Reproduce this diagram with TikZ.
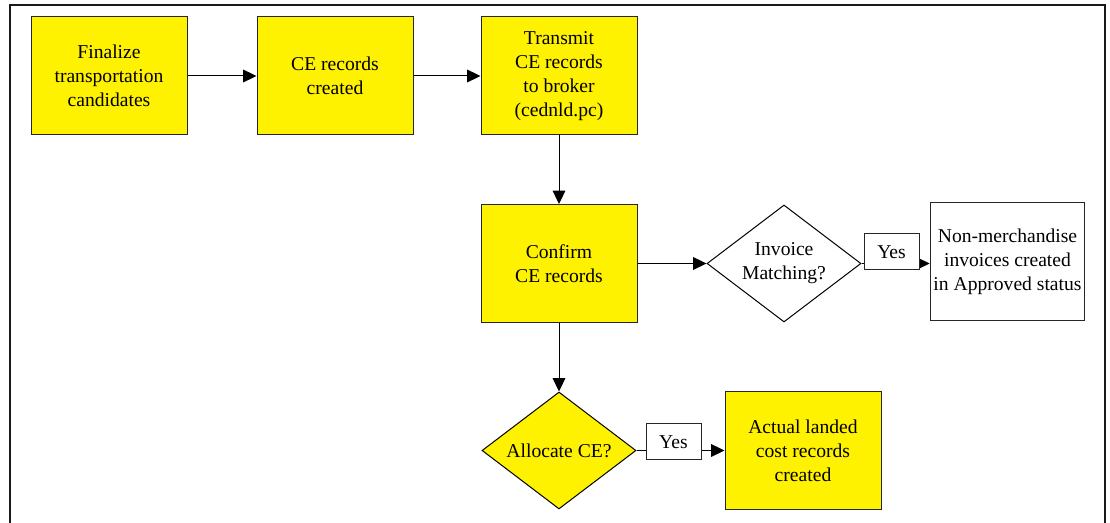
\documentclass[tikz,border=0pt]{standalone}
\usepackage{fontspec}
\setmainfont{Liberation Serif}
\usetikzlibrary{shapes.geometric,arrows.meta}
\begin{document}
\begin{tikzpicture}[x=0.75pt,y=-0.75pt,
  every node/.style={font=\fontsize{14.7}{18}\selectfont, align=center, inner sep=0pt},
  stepbox/.style={draw=black!85, line width=0.75pt, fill=yellow, minimum width=117pt, minimum height=88.5pt},
  plainbox/.style={draw=black!85, line width=0.75pt, fill=white, minimum width=116pt, minimum height=88.5pt},
  decision/.style={diamond, aspect=1.32, draw=black, line width=0.75pt, minimum width=115.5pt, minimum height=87.75pt},
  yeslabel/.style={draw=black!85, line width=0.75pt, fill=white, minimum width=41.25pt, minimum height=27pt},
  flow/.style={draw=black, line width=0.75pt, -{Triangle[length=10pt,width=9.5pt]}}
]
\useasboundingbox (0,0) rectangle (1110,523);
% frame, open at the bottom
\draw[line width=1.5pt, black!90] (9.5,523) -- (9.5,5) -- (1105,5) -- (1105,523);

% top row
\node[stepbox] (fin) at (109,76) {Finalize\\transportation\\candidates};
\node[stepbox] (cre) at (335,76) {CE records\\created};
\node[stepbox] (tra) at (559,76) {Transmit\\CE records\\to broker\\(cednld.pc)};

% middle row
\node[stepbox] (con) at (559,263.5) {Confirm\\CE records};
\node[decision, fill=white] (inv) at (784,263.5) {Invoice\\Matching?};
\node[plainbox] (nm) at (1007.5,262) {Non-merchandise\\invoices created\\in Approved status};

% bottom row
\node[decision, fill=yellow] (alc) at (559,450.5) {Allocate CE?};
\node[stepbox] (act) at (803,450.5) {Actual landed\\cost records\\created};

% connectors
\draw[flow] (fin) -- (cre);
\draw[flow] (cre) -- (tra);
\draw[flow] (tra) -- (con);
\draw[flow] (con) -- (inv);
\draw[flow] (inv.east) -- (nm.west |- inv.east);
\draw[flow] (con) -- (alc);
\draw[flow] (alc) -- (act);

% branch labels
\node[yeslabel] (y1) at (891.5,252) {Yes};
\node[yeslabel] (y2) at (673.5,442) {Yes};
\end{tikzpicture}
\end{document}
